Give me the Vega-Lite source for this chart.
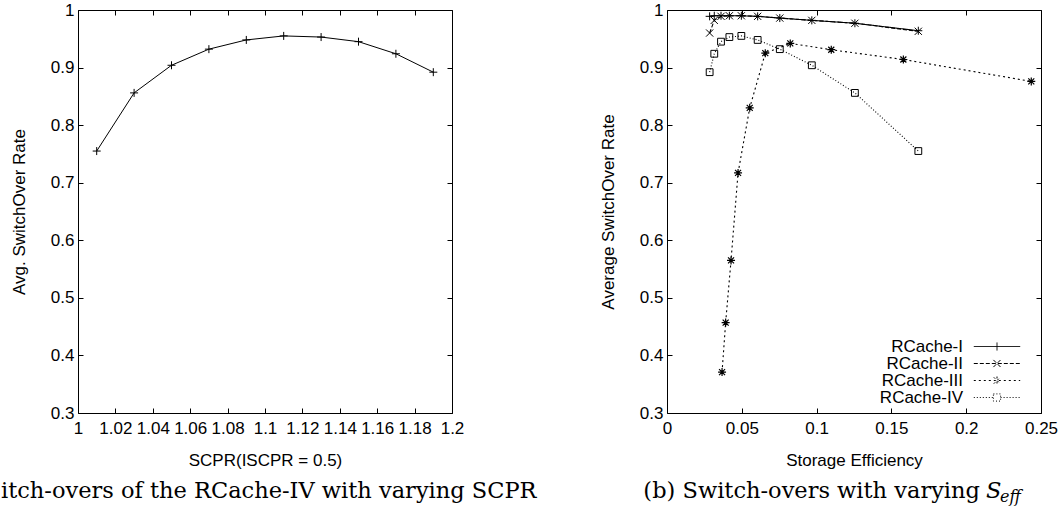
{
  "$schema": "https://vega.github.io/schema/vega-lite/v6.json",
  "padding": {"left": 0, "top": 0, "right": 0, "bottom": 0},
  "background": "white",
  "spacing": 215,
  "bounds": "flush",
  "config": {
    "view": {"stroke": "black", "strokeWidth": 1},
    "axis": {
      "labelFont": "Liberation Sans", "labelFontSize": 17, "labelColor": "black",
      "titleFont": "Liberation Sans", "titleFontSize": 17, "titleFontWeight": "normal", "titleColor": "black",
      "tickColor": "black", "tickSize": -5, "domain": false, "grid": false,
      "labelOverlap": false, "labelFlush": false, "labelBound": false
    },
    "legend": {"padding": 0}
  },
  "datasets": {
    "left": [
      {"scpr": 1.01, "rate": 0.755}, {"scpr": 1.03, "rate": 0.856}, {"scpr": 1.05, "rate": 0.904},
      {"scpr": 1.07, "rate": 0.932}, {"scpr": 1.09, "rate": 0.948}, {"scpr": 1.11, "rate": 0.955},
      {"scpr": 1.13, "rate": 0.953}, {"scpr": 1.15, "rate": 0.945}, {"scpr": 1.17, "rate": 0.924},
      {"scpr": 1.19, "rate": 0.892}
    ],
    "right": [
      {"series": "RCache-I", "se": 0.0285, "rate": 0.989},
      {"series": "RCache-I", "se": 0.0316, "rate": 0.990},
      {"series": "RCache-I", "se": 0.0361, "rate": 0.990},
      {"series": "RCache-I", "se": 0.0417, "rate": 0.990},
      {"series": "RCache-I", "se": 0.0497, "rate": 0.990},
      {"series": "RCache-I", "se": 0.0606, "rate": 0.989},
      {"series": "RCache-I", "se": 0.0754, "rate": 0.986},
      {"series": "RCache-I", "se": 0.0968, "rate": 0.982},
      {"series": "RCache-I", "se": 0.1256, "rate": 0.977},
      {"series": "RCache-I", "se": 0.168, "rate": 0.964},
      {"series": "RCache-II", "se": 0.0285, "rate": 0.960},
      {"series": "RCache-II", "se": 0.0316, "rate": 0.982},
      {"series": "RCache-II", "se": 0.0361, "rate": 0.989},
      {"series": "RCache-II", "se": 0.0417, "rate": 0.990},
      {"series": "RCache-II", "se": 0.0497, "rate": 0.990},
      {"series": "RCache-II", "se": 0.0606, "rate": 0.989},
      {"series": "RCache-II", "se": 0.0754, "rate": 0.986},
      {"series": "RCache-II", "se": 0.0968, "rate": 0.982},
      {"series": "RCache-II", "se": 0.1256, "rate": 0.977},
      {"series": "RCache-II", "se": 0.168, "rate": 0.963},
      {"series": "RCache-III", "se": 0.0368, "rate": 0.371},
      {"series": "RCache-III", "se": 0.0392, "rate": 0.457},
      {"series": "RCache-III", "se": 0.0428, "rate": 0.565},
      {"series": "RCache-III", "se": 0.0475, "rate": 0.717},
      {"series": "RCache-III", "se": 0.0553, "rate": 0.830},
      {"series": "RCache-III", "se": 0.0657, "rate": 0.925},
      {"series": "RCache-III", "se": 0.0824, "rate": 0.942},
      {"series": "RCache-III", "se": 0.1098, "rate": 0.931},
      {"series": "RCache-III", "se": 0.158, "rate": 0.914},
      {"series": "RCache-III", "se": 0.2435, "rate": 0.876},
      {"series": "RCache-IV", "se": 0.0285, "rate": 0.892},
      {"series": "RCache-IV", "se": 0.0316, "rate": 0.924},
      {"series": "RCache-IV", "se": 0.0361, "rate": 0.945},
      {"series": "RCache-IV", "se": 0.0417, "rate": 0.953},
      {"series": "RCache-IV", "se": 0.0497, "rate": 0.955},
      {"series": "RCache-IV", "se": 0.0606, "rate": 0.948},
      {"series": "RCache-IV", "se": 0.0754, "rate": 0.932},
      {"series": "RCache-IV", "se": 0.0968, "rate": 0.904},
      {"series": "RCache-IV", "se": 0.1256, "rate": 0.856},
      {"series": "RCache-IV", "se": 0.168, "rate": 0.755}
    ]
  },
  "hconcat": [
    {
      "width": 374,
      "height": 403,
      "data": {"name": "left"},
      "resolve": {"axis": {"x": "independent", "y": "independent"}},
      "layer": [
        {
          "mark": {"type": "line", "color": "black", "strokeWidth": 1},
          "encoding": {
            "x": {"field": "scpr", "type": "quantitative",
              "scale": {"domain": [1, 1.2], "nice": false, "zero": false},
              "axis": {"values": [1, 1.02, 1.04, 1.06, 1.08, 1.1, 1.12, 1.14, 1.16, 1.18, 1.2], "format": "~g",
                "title": "SCPR(ISCPR = 0.5)", "labelPadding": 12, "titlePadding": 16}},
            "y": {"field": "rate", "type": "quantitative",
              "scale": {"domain": [0.3, 1], "nice": false, "zero": false},
              "axis": {"values": [0.3, 0.4, 0.5, 0.6, 0.7, 0.8, 0.9, 1], "format": "~g",
                "title": "Avg. SwitchOver Rate", "labelPadding": 9, "titlePadding": 22}}
          }
        },
        {
          "mark": {"type": "point", "shape": "M-1,0H1M0,-1V1", "size": 64, "stroke": "black", "strokeWidth": 1, "filled": false, "opacity": 1},
          "encoding": {
            "x": {"field": "scpr", "type": "quantitative",
              "axis": {"orient": "top", "labels": false, "title": null, "values": [1, 1.02, 1.04, 1.06, 1.08, 1.1, 1.12, 1.14, 1.16, 1.18, 1.2]}},
            "y": {"field": "rate", "type": "quantitative",
              "axis": {"orient": "right", "labels": false, "title": null, "values": [0.3, 0.4, 0.5, 0.6, 0.7, 0.8, 0.9, 1]}}
          }
        },
        {
          "data": {"values": [{"caption": "itch-overs of the RCache-IV with varying SCPR"}]},
          "mark": {"type": "text", "align": "left", "baseline": "alphabetic", "dy": 85, "font": "DejaVu Serif", "fontSize": 22.5, "color": "black"},
          "encoding": {
            "text": {"field": "caption"},
            "x": {"datum": 0.958824, "type": "quantitative", "axis": null},
            "y": {"datum": 0.3, "type": "quantitative", "axis": null}
          }
        }
      ]
    },
    {
      "width": 374,
      "height": 403,
      "data": {"name": "right"},
      "resolve": {"axis": {"x": "independent", "y": "independent"}},
      "layer": [
        {
          "mark": {"type": "line", "color": "black", "strokeWidth": 1.1},
          "encoding": {
            "x": {"field": "se", "type": "quantitative",
              "scale": {"domain": [0, 0.25], "nice": false, "zero": false},
              "axis": {"values": [0, 0.05, 0.1, 0.15, 0.2, 0.25], "format": "~g",
                "title": "Storage Efficiency", "labelPadding": 12, "titlePadding": 16}},
            "y": {"field": "rate", "type": "quantitative",
              "scale": {"domain": [0.3, 1], "nice": false, "zero": false},
              "axis": {"values": [0.3, 0.4, 0.5, 0.6, 0.7, 0.8, 0.9, 1], "format": "~g",
                "title": "Average SwitchOver Rate", "labelPadding": 9, "titlePadding": 22}},
            "strokeDash": {"field": "series", "type": "nominal",
              "scale": {"domain": ["RCache-I", "RCache-II", "RCache-III", "RCache-IV"], "range": [[1, 0], [4, 2], [2, 3], [1, 2]]},
              "legend": {
                "title": null, "orient": "none", "legendX": 910.5, "legendY": 328,
                "labelAlign": "right", "labelOffset": -42.5, "labelFont": "Liberation Sans", "labelFontSize": 17, "labelColor": "black",
                "symbolSize": 256, "symbolOffset": 0, "rowPadding": -1.5,
                "symbolStrokeColor": "black", "symbolStrokeWidth": 1, "symbolFillColor": "transparent",
                "encode": {"symbols": {"update": {
                  "fill": {"value": "transparent"},
                  "stroke": {"value": "black"},
                  "shape": {"signal": "datum.value === 'RCache-I' ? 'M-2.9,0H2.9M0,-0.5V0.5' : datum.value === 'RCache-II' ? 'M-2.9,0H2.9M-0.45,-0.45L0.45,0.45M-0.45,0.45L0.45,-0.45' : datum.value === 'RCache-III' ? 'M-2.9,0H2.9M0,-0.5V0.5M-0.4,-0.4L0.4,0.4M-0.4,0.4L0.4,-0.4' : 'M-2.9,0H-0.45M0.45,0H2.9M-0.45,-0.45H0.45V0.45H-0.45Z'"}
                }}}
              }}
          }
        },
        {
          "transform": [{"filter": "datum.series === 'RCache-IV'"}],
          "mark": {"type": "point", "shape": "M-0.85,-0.85H0.85V0.85H-0.85Z", "size": 64, "stroke": "black", "strokeWidth": 1, "filled": false, "opacity": 1},
          "encoding": {
            "x": {"field": "se", "type": "quantitative",
              "axis": {"orient": "top", "labels": false, "title": null, "values": [0, 0.05, 0.1, 0.15, 0.2, 0.25]}},
            "y": {"field": "rate", "type": "quantitative",
              "axis": {"orient": "right", "labels": false, "title": null, "values": [0.3, 0.4, 0.5, 0.6, 0.7, 0.8, 0.9, 1]}}
          }
        },
        {
          "transform": [{"filter": "datum.series === 'RCache-III'"}],
          "mark": {"type": "point", "shape": "M-1,0H1M0,-1V1M-0.75,-0.75L0.75,0.75M-0.75,0.75L0.75,-0.75", "size": 64, "stroke": "black", "strokeWidth": 1.2, "filled": false, "opacity": 1},
          "encoding": {
            "x": {"field": "se", "type": "quantitative", "axis": null},
            "y": {"field": "rate", "type": "quantitative", "axis": null}
          }
        },
        {
          "transform": [{"filter": "datum.series === 'RCache-II'"}],
          "mark": {"type": "point", "shape": "M-0.9,-0.9L0.9,0.9M-0.9,0.9L0.9,-0.9", "size": 64, "stroke": "black", "strokeWidth": 1, "filled": false, "opacity": 1},
          "encoding": {
            "x": {"field": "se", "type": "quantitative", "axis": null},
            "y": {"field": "rate", "type": "quantitative", "axis": null}
          }
        },
        {
          "transform": [{"filter": "datum.series === 'RCache-I'"}],
          "mark": {"type": "point", "shape": "M-1,0H1M0,-1V1", "size": 64, "stroke": "black", "strokeWidth": 1, "filled": false, "opacity": 1},
          "encoding": {
            "x": {"field": "se", "type": "quantitative", "axis": null},
            "y": {"field": "rate", "type": "quantitative", "axis": null}
          }
        },
        {
          "data": {"values": [{"caption": "(b) Switch-overs with varying"}]},
          "mark": {"type": "text", "align": "right", "baseline": "alphabetic", "dy": 85, "dx": -6, "font": "DejaVu Serif", "fontSize": 22.5, "color": "black"},
          "encoding": {
            "text": {"field": "caption"},
            "x": {"datum": 0.2132, "type": "quantitative", "axis": null},
            "y": {"datum": 0.3, "type": "quantitative", "axis": null}
          }
        },
        {
          "data": {"values": [{"caption": "S"}]},
          "mark": {"type": "text", "align": "left", "baseline": "alphabetic", "dy": 85, "font": "DejaVu Serif", "fontStyle": "italic", "fontSize": 22.5, "color": "black"},
          "encoding": {
            "text": {"field": "caption"},
            "x": {"datum": 0.2132, "type": "quantitative", "axis": null},
            "y": {"datum": 0.3, "type": "quantitative", "axis": null}
          }
        },
        {
          "data": {"values": [{"caption": "eff"}]},
          "mark": {"type": "text", "align": "left", "baseline": "alphabetic", "dy": 89, "dx": 14, "font": "DejaVu Serif", "fontStyle": "italic", "fontSize": 16, "color": "black"},
          "encoding": {
            "text": {"field": "caption"},
            "x": {"datum": 0.2132, "type": "quantitative", "axis": null},
            "y": {"datum": 0.3, "type": "quantitative", "axis": null}
          }
        }
      ]
    }
  ]
}
